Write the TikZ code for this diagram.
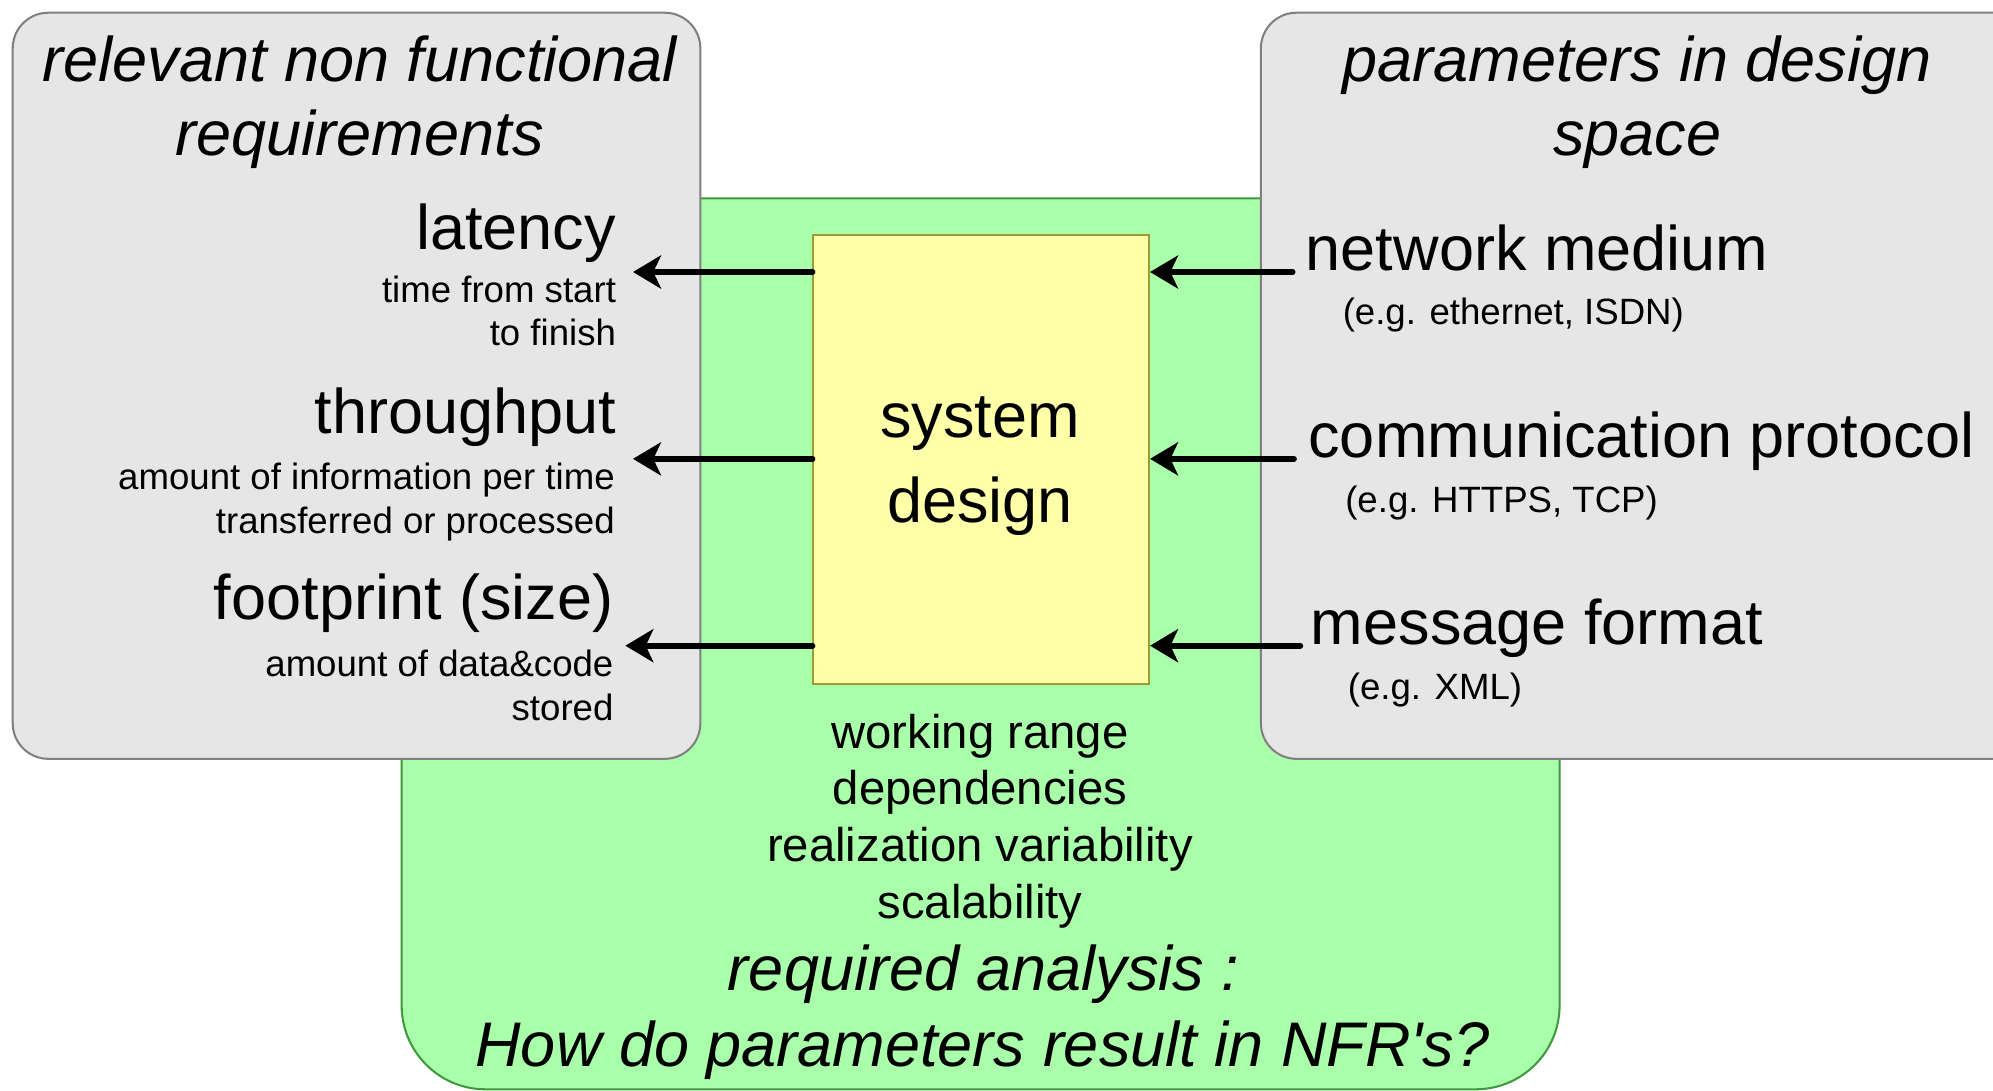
\documentclass[tikz,border=0pt]{standalone}
\usepackage{fontspec}
\setmainfont{Liberation Sans}[Ligatures=TeXOff]
\usetikzlibrary{arrows.meta}
\definecolor{boxgray}{HTML}{E6E6E6}
\definecolor{boxgrayline}{HTML}{808080}
\definecolor{greenfill}{HTML}{AAFFAA}
\definecolor{greenline}{HTML}{3C9A3C}
\definecolor{yellowfill}{HTML}{FFFFAA}
\definecolor{yellowline}{HTML}{9C9C30}
\newcommand{\bigtxt}{\fontsize{24.8}{29}\selectfont}
\newcommand{\smalltxt}{\fontsize{14.4}{17.5}\selectfont}
\newcommand{\midtxt}{\fontsize{18.6}{22.5}\selectfont}
\begin{document}
\begin{tikzpicture}[x=0.5pt,y=-0.5pt,
  graybox/.style={draw=boxgrayline, fill=boxgray, line width=0.8pt, rounded corners=14pt},
  greenbox/.style={draw=greenline, fill=greenfill, line width=0.8pt, rounded corners=33pt},
  sysbox/.style={draw=yellowline, fill=yellowfill, line width=0.8pt, minimum width=132pt, minimum height=176.5pt, inner sep=0pt},
  lbl/.style={inner sep=0pt, font=\bigtxt},
  ilbl/.style={inner sep=0pt, font=\bigtxt\itshape},
  sub/.style={inner sep=0pt, font=\smalltxt},
  mid/.style={inner sep=0pt, font=\midtxt},
  arr/.style={line width=2.3pt, line cap=round, -{Stealth[length=11pt,width=13pt,inset=3pt]}}]
\useasboundingbox (0,0) rectangle (1568,858);
\clip (0,0) rectangle (1568,858);
\fill[white] (0,0) rectangle (1568,858);

% background shapes
\draw[greenbox] (316,156) rectangle (1227,857);
\draw[graybox] (10,10) rectangle (551,597);
\draw[graybox] (992,10) rectangle (1600,597);

% central box
\node[sysbox] (sys) at (772,361.5) {};
\node[lbl, anchor=base] (sys1) at (771,344) {system};
\node[lbl, anchor=base] (sys2) at (771,411) {design};

% left titles
\node[ilbl, anchor=base] (ltitle1) at (283,64) {relevant non functional};
\node[ilbl, anchor=base] (ltitle2) at (283,122) {requirements};

\node[lbl, anchor=base east] (lat) at (485,196) {latency};
\node[sub, anchor=base east] (lat1) at (485,238) {time from start};
\node[sub, anchor=base east] (lat2) at (485,272) {to finish};

\node[lbl, anchor=base east] (thr) at (485,341) {throughput};
\node[sub, anchor=base east] (thr1) at (484,385) {amount of information per time};
\node[sub, anchor=base east] (thr2) at (484,420) {transferred or processed};

\node[lbl, anchor=base east] (foot) at (483,487) {footprint (size)};
\node[sub, anchor=base east] (foot1) at (483,532) {amount of data\&code};
\node[sub, anchor=base east] (foot2) at (483,567) {stored};

% right titles
\node[ilbl, anchor=base] (rtitle1) at (1288,64) {parameters in design};
\node[ilbl, anchor=base] (rtitle2) at (1288,122) {space};

\node[lbl, anchor=base west] (net) at (1027,213) {network medium};
\node[sub, anchor=base west] (net1) at (1056,255) {(e.g. ethernet, ISDN)};

\node[lbl, anchor=base west] (prot) at (1029,360) {communication protocol};
\node[sub, anchor=base west] (prot1) at (1058,403) {(e.g. HTTPS, TCP)};

\node[lbl, anchor=base west] (msg) at (1031,507) {message format};
\node[sub, anchor=base west] (msg1) at (1060,550) {(e.g. XML)};

% bottom text
\node[mid, anchor=base] (wr) at (771,589) {working range};
\node[mid, anchor=base] (dep) at (771,633) {dependencies};
\node[mid, anchor=base] (rv) at (771,678) {realization variability};
\node[mid, anchor=base] (sc) at (771,723) {scalability};
\node[ilbl, anchor=base] (ra) at (774,779) {required analysis :};
\node[ilbl, anchor=base] (how) at (773,839) {How do parameters result in NFR's?};

% arrow end points
\coordinate (l1) at (498,214);
\coordinate (l2) at (498,361);
\coordinate (l3) at (492,508);
\coordinate (r1) at (1017,214);
\coordinate (r2) at (1018,361);
\coordinate (r3) at (1023,508);

\draw[arr] (l1 -| sys.west) -- (l1);
\draw[arr] (l2 -| sys.west) -- (l2);
\draw[arr] (l3 -| sys.west) -- (l3);
\draw[arr] (r1) -- (r1 -| sys.east);
\draw[arr] (r2) -- (r2 -| sys.east);
\draw[arr] (r3) -- (r3 -| sys.east);
\end{tikzpicture}
\end{document}
